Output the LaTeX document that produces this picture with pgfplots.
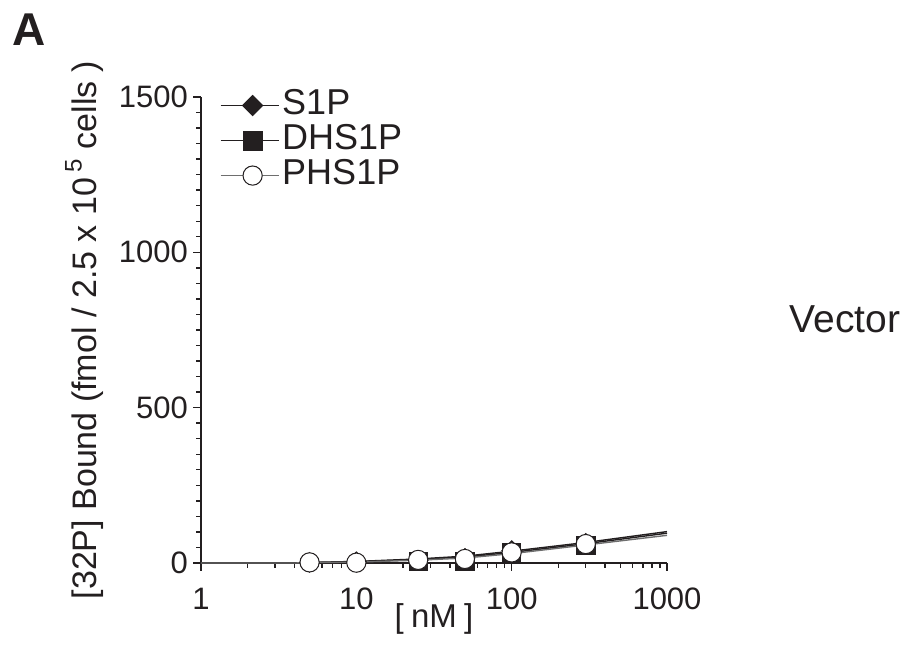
\documentclass[border=0pt]{standalone}
\usepackage{fontspec}
\setmainfont{Liberation Sans}
\usepackage{pgfplots}
\pgfplotsset{compat=1.18}

\definecolor{ink}{RGB}{35,31,32}
\definecolor{inkgray}{RGB}{110,110,110}

\begin{document}
\begin{tikzpicture}
\path[use as bounding box] (-100.5pt,-47pt) rectangle (351.5pt,281.5pt);
\begin{axis}[
  at={(0pt,0pt)}, anchor=south west,
  scale only axis, width=233pt, height=233pt,
  xmode=log, xmin=1, xmax=1000, ymin=0, ymax=1500,
  axis x line*=bottom, axis y line*=left,
  axis line style={ink, line width=0.75pt},
  tick style={ink, line width=0.7pt},
  tick align=outside,
  major tick length=4pt, minor tick length=2.5pt,
  xtick={1,10,100,1000}, xticklabels={1,10,100,1000},
  ytick={0,500,1000,1500}, yticklabels={0,500,1000,1500},
  minor y tick num=9,
  /pgf/number format/assume math mode=true,
  tick label style={font=\fontsize{15.5}{17}\selectfont, text=ink},
  xticklabel style={yshift=-5pt},
  yticklabel style={xshift=1pt},
  xlabel={\fontsize{16.5}{18}\selectfont [\hspace{0.22em}nM\hspace{0.22em}]},
  ylabel={\fontsize{17}{19}\selectfont [32P] Bound (fmol / 2.5 x 10\,\raisebox{0.45em}{\fontsize{12}{13}\selectfont 5} cells )},
  xlabel style={text=ink, at={(axis description cs:0.5,-0.12)}, anchor=center},
  ylabel style={text=ink, at={(axis description cs:-0.25,0.5)}, anchor=center},
  clip=false,
  legend cell align=left,
  legend image code/.code={\draw[mark repeat=2,mark phase=2,#1] plot coordinates {(0pt,0pt) (16pt,0pt) (29pt,0pt)};},
  legend style={draw=none, fill=none, at={(axis description cs:0.04,1.02)}, anchor=north west,
    font=\fontsize{18}{20}\selectfont, text=ink, row sep=0pt, inner sep=0pt,
    nodes={inner sep=1.5pt, text height=11.5pt, text depth=3pt}},
]
% legend images
\addlegendimage{ink, line width=0.6pt, mark=square*, mark size=3.5pt, mark options={rotate=45, fill=ink, draw=ink}}
\addlegendentry{S1P}
\addlegendimage{ink, line width=0.6pt, mark=square*, mark size=4.7pt, mark options={fill=ink, draw=ink}}
\addlegendentry{DHS1P}
\addlegendimage{inkgray, line width=0.6pt, mark=*, mark size=4.8pt, mark options={fill=white, draw=ink, line width=0.5pt}}
\addlegendentry{PHS1P}

% fitted curves
\addplot[ink, line width=0.7pt, forget plot] coordinates {
  (1,0) (4,0) (5,2) (10,5) (25,13) (50,22) (100,38) (300,66) (1000,101)};
\addplot[ink, line width=0.7pt, forget plot] coordinates {
  (1,0) (4,0) (5,1) (10,4) (25,11) (50,19) (100,34) (300,62) (1000,96)};
\addplot[inkgray, line width=0.7pt, forget plot] coordinates {
  (1,0) (4,0) (5,1) (10,3) (25,9) (50,16) (100,30) (300,58) (1000,89)};

% data points
\addplot[only marks, forget plot, mark=square*, mark size=3.5pt,
  mark options={rotate=45, fill=ink, draw=ink}] coordinates {
  (5,2) (10,4) (25,8) (50,15) (100,40) (300,63)};
\addplot[only marks, forget plot, mark=square*, mark size=4.6pt,
  mark options={fill=ink, draw=ink}] coordinates {
  (25,5) (50,5) (100,32) (300,56)};
\addplot[only marks, forget plot, mark=*, mark size=4.8pt,
  mark options={fill=white, draw=ink, line width=0.5pt}] coordinates {
  (5,2) (10,1) (25,10) (50,13) (100,34) (300,61)};
\end{axis}
\node[font=\fontsize{23}{25}\selectfont\bfseries, text=ink] at (-86pt,266.5pt) {A};
\node[font=\fontsize{19.5}{21}\selectfont, text=ink] at (322pt,122pt) {Vector};
\end{tikzpicture}
\end{document}
